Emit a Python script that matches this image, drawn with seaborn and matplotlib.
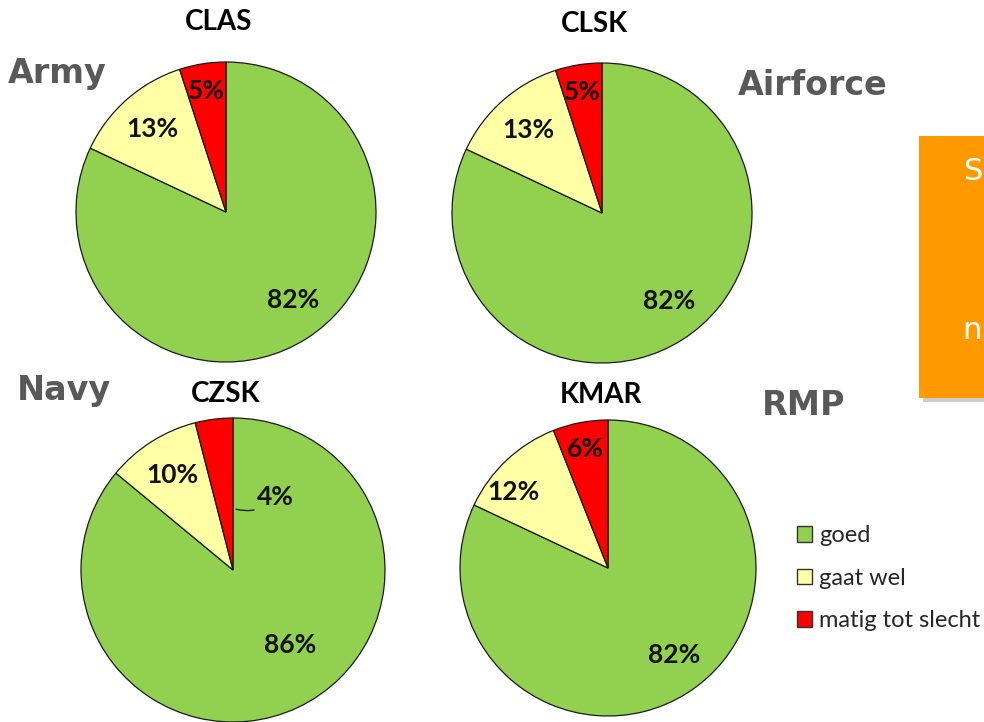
import numpy as np
import matplotlib
matplotlib.use("Agg")
import matplotlib.pyplot as plt
import matplotlib.patches as mpatches
import seaborn as sns

# ---- data ----
categories = ["goed", "gaat wel", "matig tot slecht"]
units = ["CLAS", "CLSK", "CZSK", "KMAR"]
clas = [82, 13, 5]
clsk = [82, 13, 5]
czsk = [86, 10, 4]
kmar = [82, 12, 6]
branch_labels = ["Army", "Airforce", "Navy", "RMP"]
colors = ["#92D050", "#FFFFA6", "#FF0000"]

series = [clas, clsk, czsk, kmar]

sns.set_theme(style="white")
plt.rcParams["font.family"] = ["Lato", "DejaVu Sans"]

W, H = 984, 722
fig = plt.figure(figsize=(W / 100, H / 100), dpi=100)
fig.patch.set_facecolor("white")

# pie layout in pixels: (center x, center y, radius)
layout = [(226, 212, 150), (602, 213, 150), (233, 570, 152), (608, 568, 148)]
title_off = [1.27, 1.26, 1.16, 1.17]
label_dist = [0.74, 0.74, 0.82]
PCT_FS = 19
TITLE_FS = 20

def px_axes(cx, cy, r):
    return fig.add_axes([(cx - r) / W, (H - cy - r) / H, 2 * r / W, 2 * r / H])

for i, (vals, name, (cx, cy, r)) in enumerate(zip(series, units, layout)):
    ax = px_axes(cx, cy, r)
    wedges, _ = ax.pie(vals, colors=colors, startangle=90, counterclock=False,
                       wedgeprops=dict(edgecolor="#1a1a1a", linewidth=0.9),
                       radius=1.0)
    ax.set_xlim(-1, 1)
    ax.set_ylim(-1, 1)
    ax.set_aspect("auto")
    ax.axis("off")
    for j, (w, v) in enumerate(zip(wedges, vals)):
        mid = np.deg2rad((w.theta1 + w.theta2) / 2)
        if name == "CZSK" and j == 2:
            ax.annotate(f"{v}%", xy=(0.02, 0.40),
                        xytext=(0.16, 0.48), ha="left", va="center",
                        fontsize=PCT_FS, fontweight="bold", color="#111111",
                        arrowprops=dict(arrowstyle="-", color="#222222", lw=1.0,
                                        shrinkA=0, shrinkB=0,
                                        connectionstyle="arc3,rad=-0.3"))
            continue
        d = label_dist[j]
        ang = mid
        if j == 0:
            ang = mid + np.deg2rad(5)
        if name == "CZSK" and j == 0:
            d = 0.62
            ang = mid + np.deg2rad(12)
        if name == "KMAR" and j == 1:
            d = 0.82
            ang = mid + np.deg2rad(8)
        ax.text(d * np.cos(ang), d * np.sin(ang), f"{v}%", ha="center", va="center",
                fontsize=PCT_FS, fontweight="bold", color="#111111")
    ax.text(-0.05, title_off[i], name, ha="center", va="center", fontsize=TITLE_FS,
            fontweight="bold", color="black", clip_on=False)

# branch labels (gray)
branch_pos = [(8, 83), (738, 95), (17, 400), (762, 415)]
for txt, (x, y) in zip(branch_labels, branch_pos):
    fig.text(x / W, 1 - y / H, txt, ha="left", va="baseline", fontsize=24,
             fontweight="bold", color="#595959", family="DejaVu Sans")

# orange box at right with shadow
shadow = mpatches.Rectangle((923 / W, 1 - 402 / H), 80 / W, 262 / H,
                            transform=fig.transFigure, facecolor="#9a9a9a",
                            alpha=0.5, edgecolor="none", zorder=1)
box = mpatches.Rectangle((919 / W, 1 - 398 / H), 80 / W, 262 / H,
                         transform=fig.transFigure, facecolor="#FF9900",
                         edgecolor="none", zorder=2)
fig.patches.extend([shadow, box])
fig.text(964 / W, 1 - 172 / H, "S", color="white", fontsize=22, va="center",
         ha="left", family="DejaVu Sans", zorder=3)
fig.text(962 / W, 1 - 330 / H, "n", color="white", fontsize=22, va="center",
         ha="left", family="DejaVu Sans", zorder=3)

# legend
handles = [mpatches.Patch(facecolor=c, edgecolor="#333333", linewidth=1.0) for c in colors]
fig.legend(handles, categories, loc="upper left",
           bbox_to_anchor=(797 / W, 1 - 525 / H), frameon=False,
           fontsize=17, handlelength=0.65, handleheight=0.65, handletextpad=0.3,
           labelspacing=0.92, borderpad=0, borderaxespad=0)

fig.savefig("out.png", dpi=100)
